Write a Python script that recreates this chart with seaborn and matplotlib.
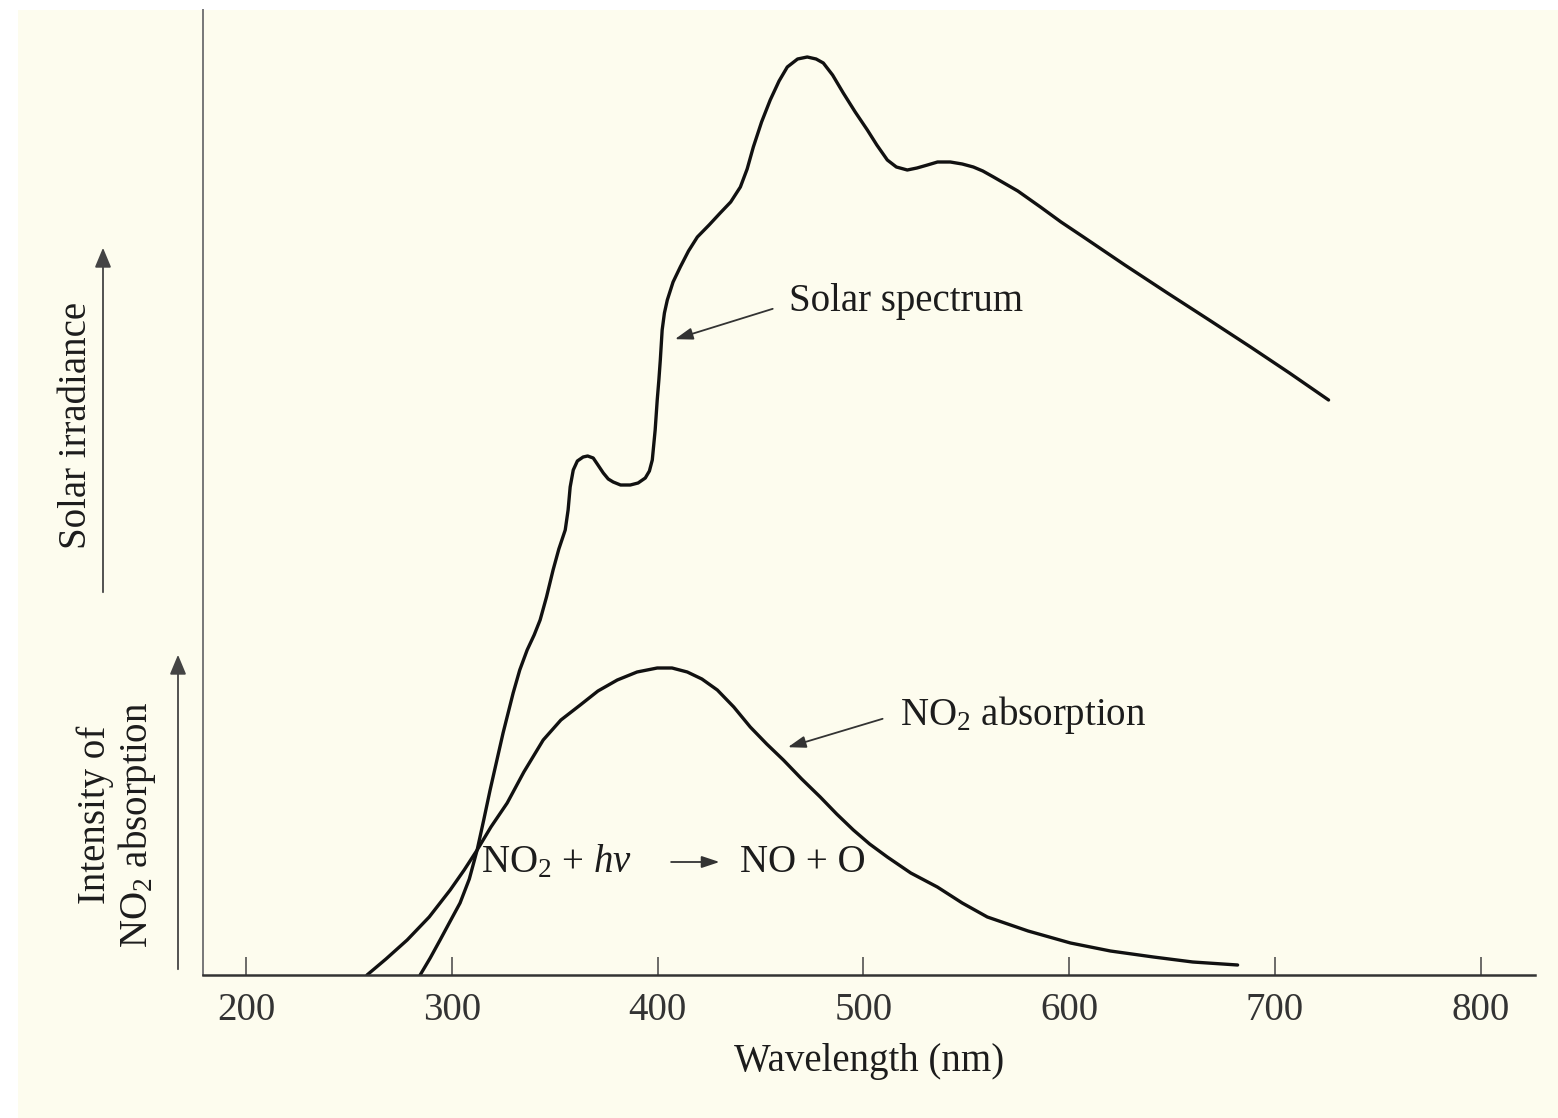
import numpy as np
import pandas as pd
import matplotlib
matplotlib.use("Agg")
import matplotlib.pyplot as plt
from matplotlib.patches import Rectangle, FancyArrowPatch
import seaborn as sns

# === DANE ===
solar_wl = [284.6, 289.5, 294.3, 299.0, 304.0, 308.5, 312.3, 315.5, 318.6, 321.8,
            324.9, 329.8, 333.0, 336.6, 340.0, 342.9, 346.0, 349.2, 352.0, 355.1,
            356.5, 357.5, 359.0, 361.0, 363.8, 366.0, 368.7, 371.0, 373.6, 376.0,
            378.4, 382.0, 386.7, 390.5, 394.0, 396.0, 397.4, 398.8, 399.8, 400.6,
            401.3, 402.2, 403.3, 404.7, 407.5, 411.0, 415.0, 419.3, 425.0, 430.4,
            435.5, 440.2, 443.5, 446.5, 450.5, 454.7, 459.0, 463.0, 468.0, 472.7,
            477.0, 480.5, 485.0, 490.2, 496.0, 501.9, 506.5, 511.6, 516.0, 521.3,
            526.0, 531.1, 536.0, 542.2, 548.0, 553.4, 558.0, 563.2, 575.0, 586.0,
            596.0, 606.9, 627.0, 647.7, 668.0, 688.1, 707.0, 726.0]
solar_irr = [0.0, 1.7, 3.5, 5.3, 7.2, 9.6, 12.5, 15.5, 18.5, 21.4,
             24.2, 28.2, 30.5, 32.5, 34.0, 35.5, 37.8, 40.5, 42.6, 44.5,
             46.5, 48.8, 50.5, 51.4, 51.8, 51.9, 51.7, 51.0, 50.2, 49.6,
             49.3, 49.0, 49.0, 49.2, 49.7, 50.4, 51.5, 54.5, 57.5, 59.5,
             61.5, 64.5, 66.2, 67.5, 69.3, 70.8, 72.4, 73.8, 75.0, 76.2,
             77.3, 78.8, 80.6, 82.8, 85.3, 87.5, 89.4, 90.8, 91.6, 91.8,
             91.6, 91.2, 90.0, 88.2, 86.3, 84.5, 83.0, 81.5, 80.8, 80.5,
             80.7, 81.0, 81.3, 81.3, 81.1, 80.8, 80.4, 79.8, 78.4, 76.8,
             75.3, 73.8, 71.0, 68.2, 65.5, 62.8, 60.2, 57.5]

no2_wl = [258.8, 268.0, 278.3, 289.0, 299.2, 306.0, 312.3, 319.0, 326.9, 335.0,
          344.4, 353.0, 362.4, 371.0, 380.4, 390.0, 399.8, 407.0, 414.4, 421.5,
          429.0, 437.0, 445.0, 453.0, 461.1, 470.0, 479.0, 487.0, 495.1, 503.0,
          511.6, 523.0, 535.9, 548.0, 560.2, 580.0, 600.6, 620.0, 640.9, 660.0,
          681.8]
no2_abs = [0.0, 1.6, 3.5, 5.8, 8.5, 10.5, 12.5, 14.8, 17.2, 20.3,
           23.5, 25.5, 27.0, 28.4, 29.5, 30.3, 30.7, 30.7, 30.3, 29.6,
           28.5, 26.8, 24.8, 23.1, 21.5, 19.6, 17.8, 16.1, 14.5, 13.1,
           11.8, 10.2, 8.8, 7.2, 5.8, 4.4, 3.2, 2.4, 1.8, 1.3,
           1.0]

x_ticks = [200, 300, 400, 500, 600, 700, 800]

# === STYL ===
sns.set_theme(style="white")
plt.rcParams["font.family"] = ["Liberation Serif", "DejaVu Serif"]
plt.rcParams["mathtext.fontset"] = "custom"
plt.rcParams["mathtext.rm"] = "Liberation Serif"
plt.rcParams["mathtext.it"] = "Liberation Serif:italic"

CREAM = "#FDFCEE"
INK = "#1c1c1c"
FS = 28

W, H = 1558, 1118
fig = plt.figure(figsize=(W / 100, H / 100), dpi=100, facecolor="white")
# kremowe tło skanu (biały margines u góry i z lewej)
fig.patches.append(Rectangle((18 / W, 0), 1 - 18 / W, 1 - 10 / H,
                             transform=fig.transFigure, facecolor=CREAM,
                             edgecolor="none", zorder=-5))

ax = fig.add_axes([203 / W, 1 - 975 / H, (1535 - 203) / W, (975 - 10) / H])
ax.set_facecolor("none")
ax.set_zorder(2)

df_solar = pd.DataFrame({"wl": solar_wl, "val": solar_irr})
df_no2 = pd.DataFrame({"wl": no2_wl, "val": no2_abs})
sns.lineplot(data=df_solar, x="wl", y="val", ax=ax, color="#111111", lw=2.4,
             sort=False, solid_joinstyle="round", solid_capstyle="round")
sns.lineplot(data=df_no2, x="wl", y="val", ax=ax, color="#111111", lw=2.4,
             sort=False, solid_joinstyle="round", solid_capstyle="round")

ax.set_xlim(179.1, 826.3)
ax.set_ylim(0, 96.5)
ax.set_xticks(x_ticks)
ax.set_xticklabels([str(t) for t in x_ticks], fontsize=FS, color="#333333")
ax.set_yticks([])
ax.tick_params(axis="x", bottom=True, direction="in", length=13, width=1.1,
               color="#444444", pad=12)
ax.set_xlabel("Wavelength (nm)", fontsize=FS, color=INK, labelpad=10)
ax.set_ylabel("")

for side in ["top", "right"]:
    ax.spines[side].set_visible(False)
ax.spines["left"].set_color("#777777")
ax.spines["left"].set_linewidth(1.4)
ax.spines["bottom"].set_color("#333333")
ax.spines["bottom"].set_linewidth(1.8)

# === ADNOTACJE ===
arrow_kw = dict(arrowstyle="-|>,head_length=0.9,head_width=0.3", color="#333333", lw=1.3)
ax.text(464, 67.3, "Solar spectrum", fontsize=FS, color=INK, ha="left", va="center")
ax.annotate("", xy=(407.1, 63.5), xytext=(457.2, 66.7), arrowprops=arrow_kw)

ax.text(518, 26.0, "NO$_2$ absorption", fontsize=FS, color=INK, ha="left", va="center")
ax.annotate("", xy=(462.0, 22.7), xytext=(510.6, 25.7), arrowprops=arrow_kw)

ax.text(314, 11.3, "NO$_2$ + $h\\nu$", fontsize=FS, color=INK, ha="left", va="center")
ax.annotate("", xy=(431.4, 11.3), xytext=(405.2, 11.3), arrowprops=arrow_kw)
ax.text(440.2, 11.3, "NO + O", fontsize=FS, color=INK, ha="left", va="center")

# === OPISY OSI Y (poza osią) ===
def fx(px):
    return px / W

def fy(py):
    return 1 - py / H

fig.text(fx(77), fy(425), "Solar irradiance", fontsize=FS, color=INK,
         rotation=90, ha="center", va="center")
fig.text(fx(95), fy(815), "Intensity of", fontsize=FS, color=INK,
         rotation=90, ha="center", va="center")
fig.text(fx(137), fy(825), "NO$_2$ absorption", fontsize=FS, color=INK,
         rotation=90, ha="center", va="center")

side_kw = dict(arrowstyle="-|>,head_length=0.6,head_width=0.25", color="#444444",
               lw=1.3, mutation_scale=20, transform=fig.transFigure)
fig.patches.append(FancyArrowPatch((fx(103), fy(595)), (fx(103), fy(245)), **side_kw))
fig.patches.append(FancyArrowPatch((fx(178), fy(972)), (fx(178), fy(652)), **side_kw))

fig.savefig("out.png", dpi=100, facecolor=fig.get_facecolor())
